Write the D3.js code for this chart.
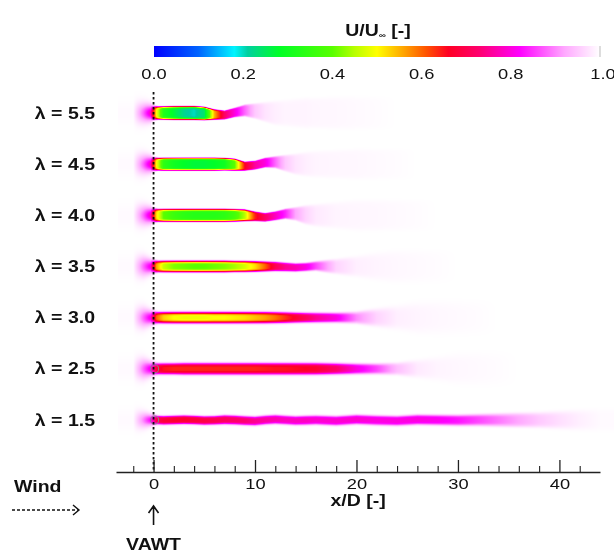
<!DOCTYPE html>
<html><head><meta charset="utf-8">
<script src="https://cdn.jsdelivr.net/npm/d3@7"></script>
<style>
body{margin:0;background:#fff;}
#wrap{position:relative;width:614px;height:553px;overflow:hidden;background:#fff}
#wrap canvas,#wrap svg{position:absolute;left:0;top:0}
text{font-family:"Liberation Sans",Arial,Helvetica,sans-serif;}
</style>
</head><body>
<div id="wrap"><canvas id="field" width="614" height="553"></canvas><svg id="chart" width="614" height="553"></svg></div>
<script>
// ---------------- data ----------------
const rowLabels = ["λ = 5.5","λ = 4.5","λ = 4.0","λ = 3.5","λ = 3.0","λ = 2.5","λ = 1.5"];
const xTickMajor = [0,10,20,30,40];
const xTickMinor = [-2,2,4,6,8,12,14,16,18,22,24,26,28,32,34,36,38,42];
const cbarTicks = [0,0.2,0.4,0.6,0.8,1.0];
const cbarTickLabels = ["0.0","0.2","0.4","0.6","0.8","1.0"];
const cmStops  = [0, 0.10, 0.18, 0.21, 0.28, 0.40, 0.45, 0.50, 0.56, 0.61, 0.66, 0.73, 0.82, 0.92, 1.0];
const cmColors = ["#0000ff","#0064ff","#00f4ff","#00d0a0","#00ff28","#58ff00","#b8ff00","#ffff00","#ffa400","#ff5400","#ff0024","#ff0070","#ff00ff","#ffa8ff","#ffffff"];

// stations along the wake (x/D)
const stationsXD = [-2,-1,-0.3,0.3,1,2,3,4,5,6,7,8,9,10,11,12,13,14,15,16,18,20,22,24,26,28,30,32,34,36,38,40,42,44];

// centreline U/U∞ per tip speed ratio
const uCenter55 = [0.995,0.88,0.78,0.50,0.32,0.27,0.22,0.20,0.24,0.55,0.72,0.80,0.88,0.95,0.975,0.985,0.99,0.99,0.99,0.992,0.993,0.995,0.997,1,1,1,1,1,1,1,1,1,1,1];
const uCenter45 = [0.995,0.88,0.78,0.50,0.34,0.30,0.28,0.27,0.27,0.28,0.30,0.40,0.66,0.76,0.80,0.88,0.95,0.975,0.985,0.99,0.992,0.993,0.995,0.997,1,1,1,1,1,1,1,1,1,1];
const uCenter40 = [0.995,0.88,0.78,0.52,0.40,0.36,0.34,0.33,0.33,0.33,0.34,0.37,0.45,0.64,0.72,0.78,0.84,0.92,0.96,0.98,0.99,0.992,0.993,0.995,0.997,1,1,1,1,1,1,1,1,1];
const uCenter35 = [0.995,0.88,0.80,0.56,0.46,0.42,0.41,0.40,0.40,0.41,0.42,0.44,0.47,0.52,0.60,0.70,0.75,0.77,0.80,0.86,0.96,0.985,0.99,0.993,0.995,0.997,1,1,1,1,1,1,1,1];
const uCenter30 = [0.995,0.88,0.80,0.60,0.53,0.50,0.49,0.49,0.49,0.50,0.50,0.51,0.52,0.54,0.56,0.59,0.63,0.67,0.71,0.75,0.80,0.90,0.96,0.985,0.99,0.993,0.995,0.997,1,1,1,1,1,1];
const uCenter25 = [0.995,0.88,0.80,0.68,0.65,0.64,0.64,0.64,0.64,0.64,0.64,0.64,0.64,0.64,0.645,0.65,0.65,0.655,0.66,0.67,0.72,0.80,0.86,0.94,0.98,0.99,0.993,0.995,0.997,1,1,1,1,1];
const uCenter15 = [0.995,0.90,0.82,0.70,0.68,0.67,0.67,0.68,0.69,0.70,0.71,0.72,0.73,0.75,0.76,0.77,0.78,0.78,0.78,0.79,0.79,0.79,0.80,0.80,0.80,0.81,0.83,0.86,0.89,0.92,0.95,0.97,0.985,0.995];

// wake half-width (x/D units)
const halfW55 = [0.9,0.75,0.6,0.6,0.6,0.62,0.62,0.62,0.6,0.48,0.42,0.45,0.55,0.7,0.9,1.1,1.2,1.3,1.4,1.4,1.5,1.5,1.5,1.5,1.5,1.5,1.5,1.5,1.5,1.5,1.5,1.5,1.5,1.5];
const halfW45 = [0.9,0.75,0.58,0.58,0.58,0.58,0.58,0.58,0.58,0.58,0.56,0.54,0.42,0.42,0.46,0.55,0.75,0.95,1.1,1.2,1.3,1.4,1.4,1.4,1.4,1.4,1.4,1.4,1.4,1.4,1.4,1.4,1.4,1.4];
const halfW40 = [0.9,0.75,0.58,0.58,0.58,0.58,0.58,0.58,0.58,0.58,0.58,0.56,0.53,0.44,0.4,0.42,0.47,0.6,0.85,1.0,1.2,1.4,1.4,1.4,1.4,1.4,1.4,1.4,1.4,1.4,1.4,1.4,1.4,1.4];
const halfW35 = [0.9,0.75,0.52,0.5,0.5,0.5,0.5,0.5,0.5,0.5,0.5,0.48,0.48,0.46,0.44,0.42,0.4,0.38,0.38,0.42,0.65,0.9,1.2,1.4,1.4,1.4,1.4,1.4,1.4,1.4,1.4,1.4,1.4,1.4];
const halfW30 = [0.9,0.75,0.52,0.48,0.48,0.48,0.48,0.48,0.48,0.48,0.48,0.48,0.48,0.48,0.48,0.47,0.46,0.44,0.43,0.43,0.43,0.5,0.75,1.0,1.3,1.4,1.4,1.4,1.4,1.4,1.4,1.4,1.4,1.4];
const halfW25 = [0.9,0.75,0.52,0.48,0.48,0.48,0.5,0.5,0.5,0.5,0.5,0.5,0.5,0.5,0.5,0.5,0.5,0.5,0.5,0.5,0.48,0.46,0.46,0.52,0.75,1.0,1.3,1.4,1.4,1.4,1.4,1.4,1.4,1.4];
const halfW15 = [0.8,0.6,0.42,0.38,0.38,0.38,0.38,0.38,0.38,0.38,0.4,0.4,0.4,0.4,0.4,0.4,0.4,0.4,0.41,0.41,0.42,0.42,0.43,0.43,0.44,0.45,0.47,0.5,0.55,0.6,0.65,0.75,0.85,0.95];

// wake centre-line lateral offset (x/D units, positive downward)
const offset55 = [0,0,0,0,0,0,0,0,0.05,0.15,0.2,-0.05,-0.25,-0.2,-0.1,0,0,0,0,0,0,0,0,0,0,0,0,0,0,0,0,0,0,0];
const offset45 = [0,0,0,0,0,0,0,0,0,0,0,0.05,0.2,0.1,-0.15,-0.2,-0.1,0,0,0,0,0,0,0,0,0,0,0,0,0,0,0,0,0];
const offset40 = [0,0,0,0,0,0,0,0,0,0,0,0,0,0.1,0.2,0.05,-0.15,-0.15,-0.05,0,0,0,0,0,0,0,0,0,0,0,0,0,0,0];
const offset35 = [0,0,0,0,0,0,0,0,0,0,0,0,0,0,0,0,0.05,0.1,0.05,-0.05,0,0,0,0,0,0,0,0,0,0,0,0,0,0];
const offset30 = [0,0,0,0,0,0,0,0,0,0,0,0,0,0,0,0,0,0,0,0,0,0,0,0,0,0,0,0,0,0,0,0,0,0];
const offset25 = [0,0,0,0,0,0,0,0,0,0,0,0,0,0,0,0,0,0,0,0,0,0,0,0,0,0,0,0,0,0,0,0,0,0];
const offset15 = [0,0,0,0,0.03,0,-0.03,0,0.05,0.03,-0.03,0,0.06,0.1,0,-0.06,0,0.06,0.03,0,0.08,-0.05,0.03,0.08,-0.03,0,0.03,0,0,0,0,0,0,0];

// sharpness of the lateral wake profile per row
const profileSharpness = [8,8,7,5,4,4,4];

const rowCenter = [uCenter55,uCenter45,uCenter40,uCenter35,uCenter30,uCenter25,uCenter15];
const rowHalfW  = [halfW55,halfW45,halfW40,halfW35,halfW30,halfW25,halfW15];
const rowOffset = [offset55,offset45,offset40,offset35,offset30,offset25,offset15];
const rowsWithRotor = ["λ = 2.5","λ = 1.5"];

// ---------------- scales ----------------
const W = 614, H = 553;
const x = d3.scaleLinear().domain([-3.7, 44]).range([116, 600]);
const pxPerD = x(1) - x(0);
const yRow = d3.scalePoint().domain(rowLabels).range([113, 420]);
const color = d3.scaleLinear().domain(cmStops).range(cmColors).interpolate(d3.interpolateRgb).clamp(true);
const cbX = d3.scaleLinear().domain([0,1]).range([154, 600]);
const STRETCH = 1.22; // horizontal stretch of the lettering

// ---------------- field (canvas) ----------------
const off = document.createElement("canvas");
off.width = W; off.height = H;
const octx = off.getContext("2d");
const img = octx.createImageData(W, H);
const rowFns = rowLabels.map((l,i)=>({
  uc: d3.scaleLinear().domain(stationsXD).range(rowCenter[i]).clamp(true),
  hw: d3.scaleLinear().domain(stationsXD).range(rowHalfW[i]).clamp(true),
  dy: d3.scaleLinear().domain(stationsXD).range(rowOffset[i]).clamp(true),
  sharp: profileSharpness[i],
  cy: yRow(l)
}));
const step = yRow.step();
const yTop = yRow(rowLabels[0]) - step/2, yBot = yRow(rowLabels[rowLabels.length-1]) + step/2;
const pxStart = Math.floor(x(-3.5));
const LN2 = Math.log(2);
for (let py = Math.floor(yTop); py < Math.ceil(yBot); py++) {
  const ri = Math.max(0, Math.min(rowFns.length-1, Math.round((py + 0.5 - yRow(rowLabels[0]))/step)));
  const f = rowFns[ri];
  for (let px = pxStart; px < W; px++) {
    const xd = x.invert(px + 0.5);
    const yd = (py + 0.5 - f.cy)/pxPerD;
    const uc = f.uc(xd), hw = f.hw(xd), dy = f.dy(xd);
    const r = Math.abs(yd - dy)/hw;
    const t = Math.max(0, Math.min(1, (xd + 0.3)/0.8));
    const p = 2 + (f.sharp - 2)*t;
    const u = 1 - (1 - uc)*Math.exp(-LN2*Math.pow(r, p));
    const c = d3.rgb(color(u));
    const k = 4*(py*W + px);
    img.data[k] = c.r; img.data[k+1] = c.g; img.data[k+2] = c.b; img.data[k+3] = 255;
  }
}
octx.putImageData(img, 0, 0);
const ctx = document.getElementById("field").getContext("2d");
ctx.fillStyle = "#fff"; ctx.fillRect(0,0,W,H);
ctx.filter = "blur(0.7px)";
ctx.drawImage(off, 0, 0);
ctx.filter = "none";

// ---------------- svg overlay ----------------
const svg = d3.select("#chart");
function label(parent, px, py, str, size, bold, anchor) {
  return parent.append("text")
    .attr("transform", `translate(${px},${py}) scale(${STRETCH},1)`)
    .attr("text-anchor", anchor || "middle")
    .attr("font-size", size).attr("font-weight", bold ? "bold" : "normal")
    .attr("fill", "#111").text(str);
}

// colour bar
const defs = svg.append("defs");
const grad = defs.append("linearGradient").attr("id","cbar").attr("x1","0%").attr("x2","100%");
grad.selectAll("stop").data(cmStops).join("stop")
  .attr("offset", d => (d*100)+"%").attr("stop-color", (d,i)=>cmColors[i]);
svg.append("rect").attr("x", cbX(0)).attr("y", 46).attr("width", cbX(1)-cbX(0)).attr("height", 11)
  .attr("fill","url(#cbar)");
svg.append("line").attr("x1", cbX(1)).attr("x2", cbX(1)).attr("y1",46).attr("y2",57).attr("stroke","#bbb");
cbarTicks.forEach((d,i)=> label(svg, cbX(d) + (d===1?3:0), 79, cbarTickLabels[i], 15, false));
const title = svg.append("text")
  .attr("transform", `translate(378,36) scale(${STRETCH},1)`).attr("text-anchor","middle")
  .attr("font-size", 16).attr("font-weight","bold").attr("fill","#111");
title.append("tspan").text("U/U");
title.append("tspan").attr("font-size", 8).attr("dy", 2).text("∞");
title.append("tspan").attr("dy", -2).text(" [-]");

// row labels
rowLabels.forEach(l => label(svg, 95, yRow(l) + 5.5, l, 16, true, "end"));

// rotor outlines
svg.selectAll(".rotor").data(rowsWithRotor).join("circle").attr("class","rotor")
  .attr("cx", x(0)+1).attr("cy", d=>yRow(d)).attr("r", 0.4*pxPerD)
  .attr("fill","none").attr("stroke","#888").attr("stroke-width",1);

// turbine dashed line
svg.append("line").attr("x1", x(0)).attr("x2", x(0)).attr("y1", 92).attr("y2", 472)
  .attr("stroke","#111").attr("stroke-width",1.8).attr("stroke-dasharray","2.5,2.5");

// x axis
const axisY = 472;
const gMaj = svg.append("g").attr("transform",`translate(0,${axisY})`)
  .call(d3.axisBottom(x).tickValues(xTickMajor).tickSizeInner(-12).tickSizeOuter(0).tickPadding(6));
gMaj.select(".domain").attr("stroke","#222").attr("stroke-width",1.3);
gMaj.selectAll(".tick line").attr("stroke","#222").attr("stroke-width",1.3);
gMaj.selectAll(".tick text").attr("font-size",15).attr("fill","#111")
  .attr("font-family",'"Liberation Sans",Arial,sans-serif')
  .attr("transform", `scale(${STRETCH},1)`);
const gMin = svg.append("g").attr("transform",`translate(0,${axisY})`)
  .call(d3.axisBottom(x).tickValues(xTickMinor).tickSizeInner(-6).tickSizeOuter(0).tickFormat(""));
gMin.select(".domain").remove();
gMin.selectAll(".tick line").attr("stroke","#222").attr("stroke-width",1.1);

label(svg, 358, 506, "x/D [-]", 16, true);

// VAWT arrow
const ax0 = x(0);
svg.append("path").attr("d", `M${ax0},525 V507 M${ax0-5},513 L${ax0},506 L${ax0+5},513`)
  .attr("fill","none").attr("stroke","#111").attr("stroke-width",1.6);
label(svg, ax0, 550, "VAWT", 16, true);

// Wind
label(svg, 14, 492, "Wind", 16, true, "start");
svg.append("line").attr("x1", 12).attr("x2", 78).attr("y1", 510).attr("y2", 510)
  .attr("stroke","#111").attr("stroke-width",1.4).attr("stroke-dasharray","3,2");
svg.append("path").attr("d","M73,505 L79,510 L73,515").attr("fill","none").attr("stroke","#111").attr("stroke-width",1.4);
</script>
</body></html>
